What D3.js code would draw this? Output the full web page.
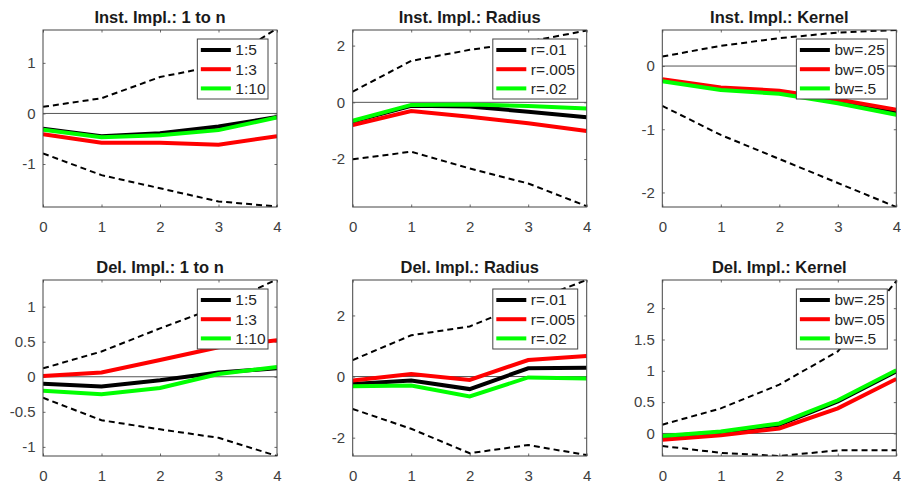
<!DOCTYPE html>
<html>
<head>
<meta charset="utf-8">
<script src="https://cdn.jsdelivr.net/npm/d3@7"></script>
<style>
  html, body { margin: 0; padding: 0; background: #fff; }
  svg { display: block; }
  text { font-family: "Liberation Sans", Arial, Helvetica, sans-serif; }
</style>
</head>
<body>
<svg id="chart" width="901" height="484"></svg>
<script>
// ---------------- data ----------------
const xValues = [0, 1, 2, 3, 4];
const titles = [
  "Inst. Impl.: 1 to n", "Inst. Impl.: Radius", "Inst. Impl.: Kernel",
  "Del. Impl.: 1 to n", "Del. Impl.: Radius", "Del. Impl.: Kernel"
];
const legendLabels = [
  ["1:5", "1:3", "1:10"],
  ["r=.01", "r=.005", "r=.02"],
  ["bw=.25", "bw=.05", "bw=.5"],
  ["1:5", "1:3", "1:10"],
  ["r=.01", "r=.005", "r=.02"],
  ["bw=.25", "bw=.05", "bw=.5"]
];
const blackSeries = [
  [-0.30, -0.45, -0.39, -0.26, -0.07],
  [-0.68, -0.12, -0.15, -0.33, -0.53],
  [-0.22, -0.36, -0.41, -0.56, -0.73],
  [-0.10, -0.14, -0.05, 0.06, 0.12],
  [-0.24, -0.13, -0.41, 0.27, 0.29],
  [-0.05, 0.02, 0.14, 0.51, 0.99]
];
const redSeries = [
  [-0.41, -0.58, -0.58, -0.62, -0.45],
  [-0.80, -0.31, -0.51, -0.74, -1.01],
  [-0.21, -0.34, -0.39, -0.53, -0.69],
  [0.01, 0.06, 0.24, 0.42, 0.52],
  [-0.13, 0.08, -0.11, 0.54, 0.67],
  [-0.10, -0.03, 0.08, 0.40, 0.87]
];
const greenSeries = [
  [-0.32, -0.47, -0.43, -0.33, -0.08],
  [-0.65, -0.09, -0.08, -0.13, -0.22],
  [-0.24, -0.38, -0.44, -0.59, -0.77],
  [-0.20, -0.25, -0.16, 0.04, 0.14],
  [-0.32, -0.29, -0.65, -0.03, -0.06],
  [-0.04, 0.03, 0.16, 0.53, 1.01]
];
const upperBand = [
  [0.13, 0.30, 0.72, 0.95, 1.68],
  [0.38, 1.46, 1.85, 2.14, 2.53],
  [0.15, 0.32, 0.44, 0.53, 0.57],
  [0.12, 0.36, 0.69, 1.00, 1.39],
  [0.54, 1.35, 1.64, 2.43, 3.16],
  [0.14, 0.40, 0.78, 1.31, 2.43]
];
const lowerBand = [
  [-0.79, -1.22, -1.48, -1.74, -1.84],
  [-2.01, -1.74, -2.33, -2.86, -3.66],
  [-0.63, -1.09, -1.47, -1.85, -2.23],
  [-0.30, -0.62, -0.75, -0.87, -1.13],
  [-1.06, -1.71, -2.51, -2.24, -2.57],
  [-0.20, -0.31, -0.36, -0.27, -0.27]
];
const yDomains = [
  [-1.85, 1.65], [-3.69, 2.55], [-2.23, 0.57],
  [-1.13, 1.38], [-2.6, 3.16], [-0.36, 2.45]
];
const yTickValues = [
  [-1, 0, 1], [-2, 0, 2], [-2, -1, 0],
  [-1, -0.5, 0, 0.5, 1], [-2, 0, 2], [0, 0.5, 1, 1.5, 2]
];
const seriesColors = ["#000000", "#ff0000", "#00ff00"];

// ---------------- layout ----------------
const svg = d3.select("#chart");
const colLeft = [43, 352.7, 662.3];
const plotW = 234;
const rowTop = [30, 280];
const rowBottom = [207, 456];
const axisColor = "#444";
const tickColor = "#404040";
const fmtTick = d => String(d); // hyphen-minus like MATLAB

for (let p = 0; p < 6; p++) {
  const col = p % 3, row = Math.floor(p / 3);
  const x0 = colLeft[col], x1 = x0 + plotW;
  const y0 = rowTop[row], y1 = rowBottom[row];

  const x = d3.scaleLinear().domain([0, 4]).range([x0, x1]);
  const y = d3.scaleLinear().domain(yDomains[p]).range([y1, y0]);

  const g = svg.append("g");
  const clipId = "clip" + p;
  g.append("clipPath").attr("id", clipId)
    .append("rect").attr("x", x0).attr("y", y0).attr("width", x1 - x0).attr("height", y1 - y0);

  // axes with inward ticks
  const tickLen = 2.5;
  const xAxis = d3.axisBottom(x).tickValues(xValues).tickFormat(fmtTick).tickSizeInner(-tickLen).tickSizeOuter(0);
  const gx = g.append("g").attr("transform", `translate(0,${y1})`).call(xAxis);
  const xTop = d3.axisTop(x).tickValues(xValues).tickFormat("").tickSizeInner(-tickLen).tickSizeOuter(0);
  const gxt = g.append("g").attr("transform", `translate(0,${y0})`).call(xTop);
  const yAxis = d3.axisLeft(y).tickValues(yTickValues[p]).tickFormat(fmtTick).tickSizeInner(-tickLen).tickSizeOuter(0).tickPadding(7.5);
  const gy = g.append("g").attr("transform", `translate(${x0},0)`).call(yAxis);
  const yRight = d3.axisRight(y).tickValues(yTickValues[p]).tickFormat("").tickSizeInner(-tickLen).tickSizeOuter(0);
  const gyr = g.append("g").attr("transform", `translate(${x1},0)`).call(yRight);

  [gx, gxt, gy, gyr].forEach(a => {
    a.select(".domain").remove();
    a.selectAll(".tick line").attr("stroke", axisColor).attr("stroke-width", 0.8);
    a.selectAll(".tick text").attr("fill", tickColor).style("font-size", "15px");
  });
  gx.selectAll(".tick text").attr("y", row === 0 ? 25 : 24.5).attr("dy", null);

  // zero line
  g.append("line")
    .attr("x1", x0).attr("x2", x1).attr("y1", y(0)).attr("y2", y(0))
    .attr("stroke", "#555").attr("stroke-width", 1);

  const line = d3.line().x((d, i) => x(xValues[i])).y(d => y(d));
  const plot = g.append("g").attr("clip-path", `url(#${clipId})`);

  [upperBand[p], lowerBand[p]].forEach(s => {
    plot.append("path").attr("d", line(s)).attr("fill", "none")
      .attr("stroke", "#000").attr("stroke-width", 2).attr("stroke-dasharray", "6,4");
  });
  [blackSeries[p], redSeries[p], greenSeries[p]].forEach((s, i) => {
    plot.append("path").attr("d", line(s)).attr("fill", "none")
      .attr("stroke", seriesColors[i]).attr("stroke-width", 4).attr("stroke-linejoin", "miter");
  });

  // box
  g.append("rect").attr("x", x0).attr("y", y0).attr("width", x1 - x0).attr("height", y1 - y0)
    .attr("fill", "none").attr("stroke", axisColor).attr("stroke-width", 1);

  // title
  g.append("text").attr("x", (x0 + x1) / 2).attr("y", y0 - 7)
    .attr("text-anchor", "middle").attr("font-weight", "bold")
    .style("font-size", "16.5px").attr("fill", "#1a1a1a").text(titles[p]);

  // legend
  const lg = g.append("g");
  const rowH = 19.2;
  const texts = legendLabels[p].map((lab, i) =>
    lg.append("text").attr("y", y0 + 9 + 11 + i * rowH).attr("dy", "0.35em")
      .style("font-size", "15.5px").attr("fill", "#262626").text(lab));
  const maxW = d3.max(texts, t => t.node().getComputedTextLength());
  const boxW = 3.5 + 30 + 4.5 + maxW + 2.5;
  const bx1 = x1 - 9, bx0 = bx1 - boxW;
  const by0 = y0 + 9, bh = 60;
  lg.insert("rect", "text").attr("x", bx0).attr("y", by0).attr("width", boxW).attr("height", bh)
    .attr("fill", "#fff").attr("stroke", axisColor).attr("stroke-width", 1);
  texts.forEach((t, i) => {
    t.attr("x", bx0 + 38);
    lg.append("line").attr("x1", bx0 + 3.5).attr("x2", bx0 + 33.5)
      .attr("y1", by0 + 11 + i * rowH).attr("y2", by0 + 11 + i * rowH)
      .attr("stroke", seriesColors[i]).attr("stroke-width", 4);
  });
}
</script>
</body>
</html>
